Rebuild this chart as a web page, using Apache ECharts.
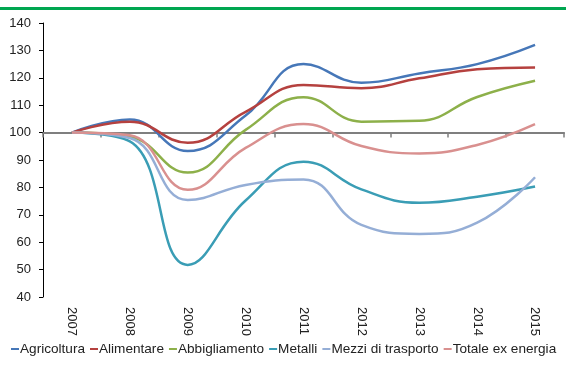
<!DOCTYPE html>
<html>
<head>
<meta charset="utf-8">
<script src="https://cdn.jsdelivr.net/npm/echarts@6/dist/echarts.min.js"></script>
<style>
  html, body { margin: 0; padding: 0; background: #fff; }
  #chart { width: 566px; height: 365px; }
</style>
</head>
<body>
<div id="chart"></div>
<script>
// Price indices by sector, 2007 = 100
const years = ['2007', '2008', '2009', '2010', '2011', '2012', '2013', '2014', '2015'];
const agricoltura   = [100, 104.8, 93.3, 106.2, 125, 118.2, 121.6, 125, 132];
const alimentare    = [100, 104, 96.3, 107.6, 117.4, 116.2, 119.8, 123.1, 123.8];
const abbigliamento = [100, 98.5, 85.4, 101, 112.9, 104, 104.3, 113, 118.9];
const metalli       = [100, 96.8, 51.7, 75.2, 89.4, 79.3, 74.4, 76.6, 80.3];
const mezzi         = [100, 98, 75.4, 80.9, 82.9, 66.3, 63, 67.1, 83.7];
const totale        = [100, 99, 79.1, 94.4, 103.1, 95.1, 92.4, 95.5, 103.1];
const yTicks = { min: 40, max: 140, step: 10 };

const seriesDefs = [
  { name: 'Agricoltura', data: agricoltura, color: '#4677B8' },
  { name: 'Alimentare', data: alimentare, color: '#B5413F' },
  { name: 'Abbigliamento', data: abbigliamento, color: '#8DB04A' },
  { name: 'Metalli', data: metalli, color: '#3A9DB5' },
  { name: 'Mezzi di trasporto', data: mezzi, color: '#95AED6' },
  { name: 'Totale ex energia', data: totale, color: '#D9908F' }
];

const font = '"Liberation Sans", Arial, sans-serif';
const chart = echarts.init(document.getElementById('chart'), null, { renderer: 'canvas' });

const gridTop = 23, gridBottom = 68;
const plotH = 365 - gridTop - gridBottom;
// reference line at 100 drawn as a second category axis lifted into the plot
const baseOffset = -plotH * (100 - yTicks.min) / (yTicks.max - yTicks.min);

chart.setOption({
  animation: false,
  backgroundColor: '#fff',
  graphic: [{
    type: 'rect',
    left: 0, top: 7,
    shape: { width: 566, height: 3 },
    style: { fill: '#00A650' },
    silent: true
  }],
  grid: { left: 43, right: 2, top: gridTop, bottom: gridBottom },
  legend: {
    bottom: 4,
    left: 6,
    itemWidth: 8,
    itemHeight: 2,
    itemGap: 5,
    icon: 'rect',
    textStyle: { fontFamily: font, fontSize: 13.6, color: '#222', padding: [0, 0, 0, -4] },
    data: seriesDefs.map(s => s.name)
  },
  xAxis: [{
    type: 'category',
    data: years,
    boundaryGap: true,
    position: 'bottom',
    axisLine: { show: false },
    axisTick: { show: false },
    axisLabel: {
      rotate: -90,
      margin: 10,
      fontFamily: font,
      fontSize: 13,
      color: '#222'
    }
  }, {
    type: 'category',
    data: years,
    boundaryGap: true,
    position: 'bottom',
    offset: baseOffset,
    axisLine: { show: true, lineStyle: { color: '#7F7F7F', width: 2 } },
    axisTick: { show: true, length: 5, lineStyle: { color: '#7F7F7F', width: 1.5 } },
    axisLabel: { show: false }
  }],
  yAxis: {
    type: 'value',
    min: yTicks.min,
    max: yTicks.max,
    interval: yTicks.step,
    axisLine: { show: true, lineStyle: { color: '#000', width: 1 } },
    axisTick: { show: true, length: 4, lineStyle: { color: '#000' } },
    splitLine: { show: false },
    axisLabel: {
      margin: 12,
      fontFamily: font,
      fontSize: 13,
      color: '#222'
    }
  },
  series: seriesDefs.map(s => ({
    name: s.name,
    type: 'line',
    data: s.data,
    smooth: 0.45,
    symbol: 'none',
    lineStyle: { width: 2.5, color: s.color },
    itemStyle: { color: s.color },
    z: 3
  }))
});
</script>
</body>
</html>
